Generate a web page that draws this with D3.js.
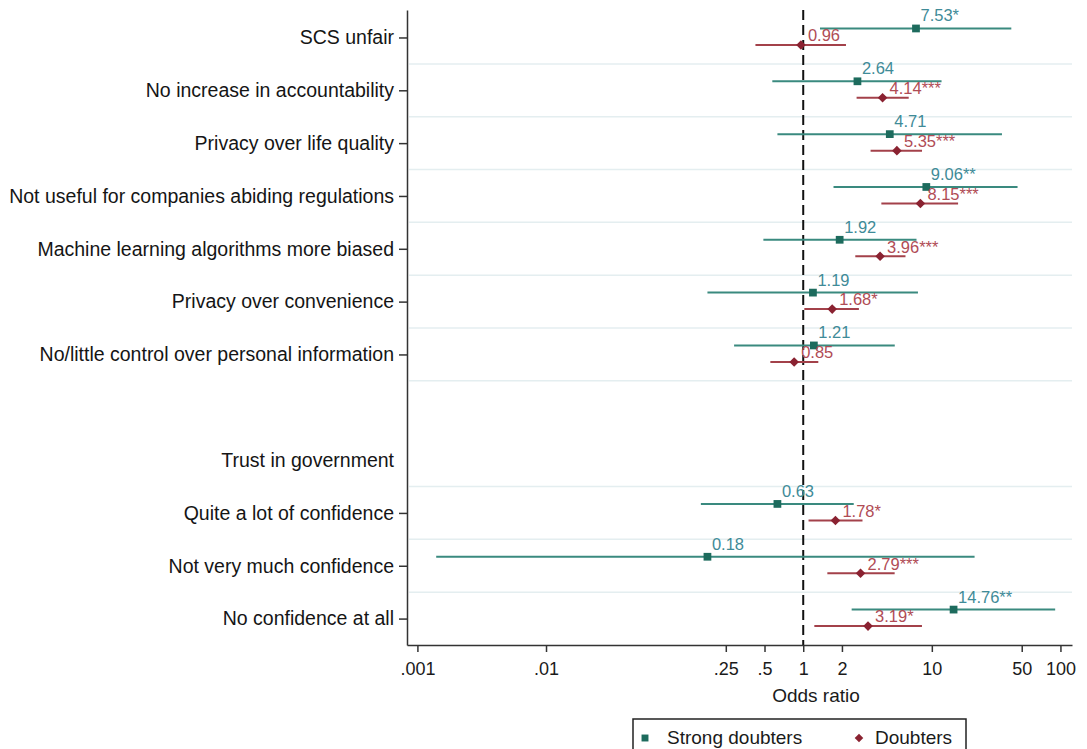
<!DOCTYPE html>
<html>
<head>
<meta charset="utf-8">
<script src="https://cdn.jsdelivr.net/npm/d3@7"></script>
<style>
body { margin: 0; background: #fff; }
text { font-family: "Liberation Sans", Arial, sans-serif; }
</style>
</head>
<body>
<div id="chart"></div>
<script>
// rows from top to bottom; "" is the empty spacer row
var rowLabels = ["SCS unfair", "No increase in accountability", "Privacy over life quality",
	"Not useful for companies abiding regulations", "Machine learning algorithms more biased",
	"Privacy over convenience", "No/little control over personal information", "",
	"Trust in government", "Quite a lot of confidence", "Not very much confidence", "No confidence at all"];
var rowHasTick = [1, 1, 1, 1, 1, 1, 1, 0, 0, 1, 1, 1];
var gridAfter = [0, 1, 2, 3, 4, 5, 6, 8, 9, 10];

// strong doubters
var strongOR  = [7.53, 2.64, 4.71, 9.06, 1.92, 1.19, 1.21, null, null, 0.63, 0.18, 14.76];
var strongLo  = [1.35, 0.575, 0.63, 1.72, 0.49, 0.18, 0.29, null, null, 0.16, 0.0014, 2.38];
var strongHi  = [41.5, 11.9, 35.1, 46.4, 7.6, 7.8, 5.15, null, null, 2.47, 21.5, 91];
var strongSig = ["*", "", "", "**", "", "", "", "", "", "", "", "**"];

// doubters
var doubtOR  = [0.96, 4.14, 5.35, 8.15, 3.96, 1.68, 0.85, null, null, 1.78, 2.79, 3.19];
var doubtLo  = [0.425, 2.60, 3.34, 4.05, 2.54, 1.02, 0.555, null, null, 1.10, 1.54, 1.22];
var doubtHi  = [2.15, 6.61, 8.39, 16.0, 6.24, 2.71, 1.31, null, null, 2.89, 5.14, 8.38];
var doubtSig = ["", "***", "***", "***", "***", "*", "", "", "", "*", "***", "*"];

var xTicks = [0.001, 0.01, 0.25, 0.5, 1, 2, 10, 50, 100];
var xTickLabels = [".001", ".01", ".25", ".5", "1", "2", "10", "50", "100"];

var width = 1087, height = 749;
var plotL = 407, plotR = 1072, plotT = 10, plotB = 645;

var svg = d3.select("#chart").append("svg")
	.attr("width", width)
	.attr("height", height);

var xScale = d3.scaleLog()
	.domain([0.00083, 123])
	.range([plotL, plotR]);
var yScale = d3.scaleLinear()
	.domain([-0.52, 11.5])
	.range([plotT, plotB]);

// square turned 45deg, wider than d3's own diamond
var diamond = {
	draw: function(ctx, size)
	{
		var r = Math.sqrt(size / 2);
		ctx.moveTo(0, -r);
		ctx.lineTo(r, 0);
		ctx.lineTo(0, r);
		ctx.lineTo(-r, 0);
		ctx.closePath();
	}
};

var series = [
	{name: "Strong doubters", or: strongOR, lo: strongLo, hi: strongHi, sig: strongSig,
	 off: -9, mark: "#1d6b5d", line: "#3a8a7f", txt: "#3f8b98", shape: d3.symbolSquare, size: 60, dx: 4.5, dy: -7},
	{name: "Doubters", or: doubtOR, lo: doubtLo, hi: doubtHi, sig: doubtSig,
	 off: 7.5, mark: "#8a2231", line: "#a3414a", txt: "#b04c55", shape: diamond, size: 46, dx: 7, dy: -3.7}
];

// light separators between rows
svg.append("g").selectAll("line")
	.data(gridAfter)
	.join("line")
	.attr("x1", plotL + 2)
	.attr("x2", plotR)
	.attr("y1", function(d){ return yScale(d + 0.5); })
	.attr("y2", function(d){ return yScale(d + 0.5); })
	.attr("stroke", "#e4eef0")
	.attr("stroke-width", 1.5);

// reference line at OR = 1
svg.append("line")
	.attr("x1", xScale(1)).attr("x2", xScale(1))
	.attr("y1", plotT).attr("y2", plotB)
	.attr("stroke", "#111")
	.attr("stroke-width", 2)
	.attr("stroke-dasharray", "10,5");

series.forEach(function(s)
{
	var idx = d3.range(rowLabels.length).filter(function(i){ return s.or[i] != null; });
	var g = svg.append("g");

	g.selectAll("line.ci")
		.data(idx)
		.join("line")
		.attr("class", "ci")
		.attr("x1", function(i){ return xScale(s.lo[i]); })
		.attr("x2", function(i){ return xScale(s.hi[i]); })
		.attr("y1", function(i){ return yScale(i) + s.off; })
		.attr("y2", function(i){ return yScale(i) + s.off; })
		.attr("stroke", s.line)
		.attr("stroke-width", 2);

	g.selectAll("path.pt")
		.data(idx)
		.join("path")
		.attr("class", "pt")
		.attr("d", d3.symbol().type(s.shape).size(s.size))
		.attr("transform", function(i){ return "translate(" + xScale(s.or[i]) + "," + (yScale(i) + s.off) + ")"; })
		.attr("fill", s.mark);

	g.selectAll("text.val")
		.data(idx)
		.join("text")
		.attr("class", "val")
		.attr("x", function(i){ return xScale(s.or[i]) + s.dx; })
		.attr("y", function(i){ return yScale(i) + s.off + s.dy; })
		.attr("font-size", 16.5)
		.attr("fill", s.txt)
		.text(function(i){ return s.or[i].toFixed(2) + s.sig[i]; });
});

// x axis
var xAxis = svg.append("g")
	.attr("transform", "translate(0," + plotB + ")")
	.call(d3.axisBottom(xScale)
		.tickValues(xTicks)
		.tickFormat(function(d, i){ return xTickLabels[i]; })
		.tickSize(7)
		.tickSizeOuter(0)
		.tickPadding(10));
xAxis.attr("font-size", 18).attr("font-family", null);
xAxis.selectAll("text").attr("fill", "#1a1a1a");
xAxis.selectAll("line, path").attr("stroke", "#333").attr("stroke-width", 1.5);

svg.append("text")
	.attr("x", 816)
	.attr("y", 702)
	.attr("text-anchor", "middle")
	.attr("font-size", 19)
	.attr("fill", "#1a1a1a")
	.text("Odds ratio");

// y axis
var labelled = d3.range(rowLabels.length).filter(function(i){ return rowLabels[i] != ""; });
var yAxis = svg.append("g")
	.attr("transform", "translate(" + plotL + ",0)")
	.call(d3.axisLeft(yScale)
		.tickValues(labelled)
		.tickFormat(function(i){ return rowLabels[i]; })
		.tickSize(8)
		.tickSizeOuter(0)
		.tickPadding(5));
yAxis.attr("font-size", 19.5).attr("font-family", null);
yAxis.selectAll("text").attr("fill", "#151515");
yAxis.selectAll("line, path").attr("stroke", "#333").attr("stroke-width", 1.5);
yAxis.selectAll(".tick").filter(function(i){ return !rowHasTick[i]; })
	.select("line").remove();

// legend (cut by the bottom edge, as in the original)
var leg = svg.append("g");
leg.append("rect")
	.attr("x", 633).attr("y", 719)
	.attr("width", 333).attr("height", 45)
	.attr("fill", "#fff")
	.attr("stroke", "#222")
	.attr("stroke-width", 1.5);
var legX = [645, 859], legT = [667, 875];
series.forEach(function(s, k)
{
	leg.append("path")
		.attr("d", d3.symbol().type(s.shape).size(s.size * 0.8))
		.attr("transform", "translate(" + legX[k] + ",738)")
		.attr("fill", s.mark);
	leg.append("text")
		.attr("x", legT[k])
		.attr("y", 743.5)
		.attr("font-size", 19)
		.attr("fill", "#1a1a1a")
		.text(s.name);
});
</script>
</body>
</html>
